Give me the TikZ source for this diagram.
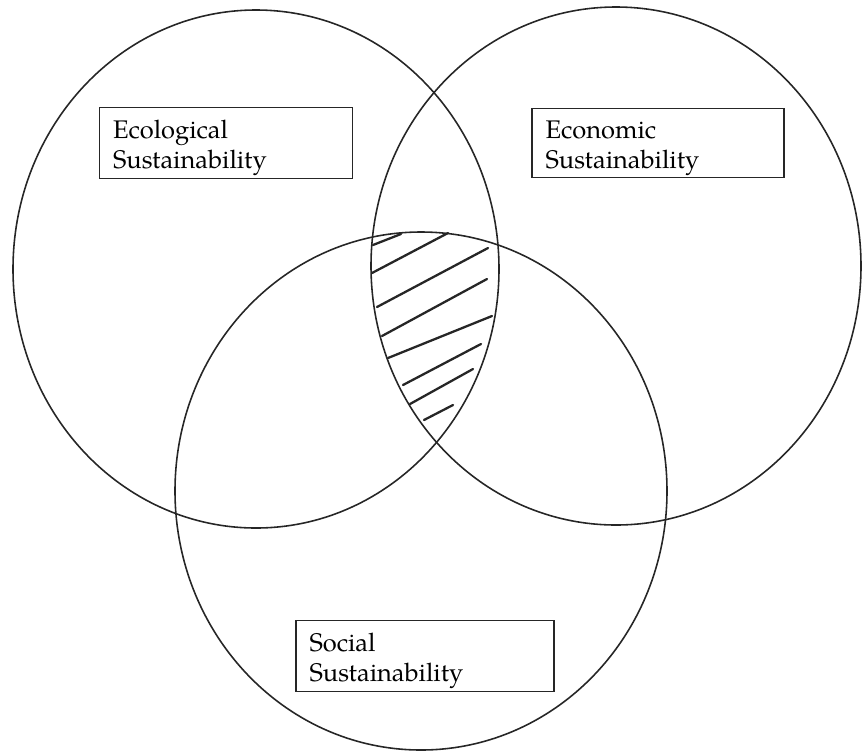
\documentclass[tikz,border=0pt]{standalone}
\usepackage{fontspec}
\setmainfont{TeX Gyre Pagella}
\usetikzlibrary{shapes.geometric}

\begin{document}
\begin{tikzpicture}[
    x=0.02cm, y=-0.02cm,
    ring/.style={
      line width=.9pt,
      draw=black!85},
    kasten/.style={
      draw=black!85,
      rectangle,
      line width=.8pt,
      inner xsep=.27cm,
      inner ysep=0pt,
      text width=4.5cm,
      minimum height=1.42cm,
      align=left,
      execute at begin node={\rule{0pt}{16pt}},
      font=\fontsize{14.5}{17.2}\selectfont},
    schraffur/.style={
      line width=1.3pt,
      draw=black!85,
      line cap=round}
    ]

  \useasboundingbox (0,0) rectangle (862,755);

  \draw[ring] (256,269) ellipse [x radius=243, y radius=259];
  \draw[ring] (616,266) ellipse [x radius=245, y radius=259];
  \draw[ring] (421,491) ellipse [x radius=246, y radius=259];

  \node at (226,143) (oekologie) [kasten, text width=4.52cm] {Ecological\\Sustainability};
  \node at (658,143) (oekonomie) [kasten, text width=4.50cm, minimum height=1.38cm] {Economic\\Sustainability};
  \node at (425,656) (sozial) [kasten, text width=4.62cm] {Social\\Sustainability};

  \foreach \xa/\ya/\xb/\yb in {373/245/401/234, 372/273/448/233, 377/307/488/248,
                               382/336/487/279, 388/358/492/316, 403/385/481/344,
                               410/404/473/369, 424/420/453/405}
    \draw[schraffur] (\xa,\ya) -- (\xb,\yb);

\end{tikzpicture}
\end{document}
